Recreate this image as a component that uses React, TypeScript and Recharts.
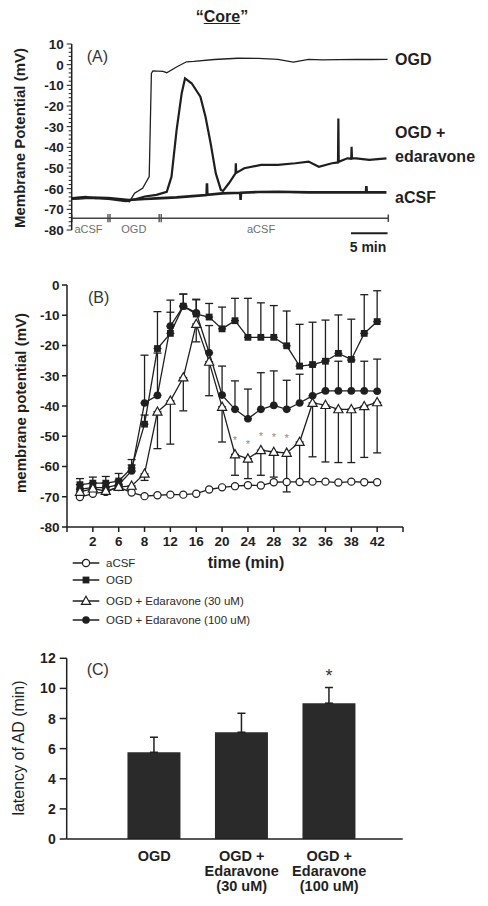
import React from 'react';
import {
  LineChart, Line, XAxis, YAxis, ErrorBar, ReferenceLine, ReferenceDot,
  LabelList, BarChart, Bar,
} from 'recharts';

const FONT = '"Liberation Sans", Arial, Helvetica, sans-serif';
const INK = '#1f1f1f';

// (A) single recordings: time (min) / membrane potential (mV)
const ogdTraceTime = [0, 1.9, 3.2, 5.0, 6.7, 7.9, 8.6, 9.7, 10.6, 10.9, 11.1, 12.5, 13.0, 14.4, 15.7, 16.7, 19.5, 22.7, 25.5, 28.2, 30.3, 32.4, 34.3, 36.5, 38.9, 41.0, 43.2];
const ogdTraceMv = [-64.5, -63.8, -64.8, -64.3, -65.5, -66.3, -62.2, -59.8, -54.2, -4.2, -3.0, -3.2, -3.9, -1.0, 1.4, 1.6, 2.5, 3.1, 3.0, 2.6, 1.2, 2.6, 2.3, 2.4, 2.6, 2.5, 2.6];

const edaTraceTime = [0, 2.5, 5.0, 7.4, 8.8, 10.0, 11.6, 13.0, 13.65, 14.35, 15.04, 15.5, 16.4, 17.6, 18.3, 19.0, 19.7, 20.4, 20.7, 21.5, 22.4, 22.45, 22.5, 23.6, 25.9, 28.2, 30.6, 32.4, 33.8, 35.6, 36.42, 36.47, 36.52, 37.7, 38.23, 38.28, 38.33, 38.9, 40.7, 43.05];
const edaTraceMv = [-65.0, -64.5, -65.0, -66.0, -65.0, -63.8, -63.0, -61.5, -54.2, -31.6, -13.9, -6.6, -9.0, -15.5, -25.2, -38.0, -52.5, -60.6, -61.1, -57.4, -52.6, -47.7, -52.4, -50.1, -48.5, -48.5, -47.7, -46.9, -49.4, -47.7, -47.3, -26.0, -47.0, -45.3, -45.5, -39.7, -45.3, -45.3, -46.1, -45.3];

const acsfTraceTime = [0, 2.5, 5.0, 7.8, 10.0, 11.6, 14.35, 16.5, 18.45, 18.5, 18.55, 20.6, 23.05, 23.1, 23.15, 25.5, 28.2, 32.4, 36.5, 40.25, 40.3, 40.35, 43.05];
const acsfTraceMv = [-64.7, -64.3, -64.5, -65.5, -65.0, -64.7, -64.2, -63.6, -63.1, -57.4, -63.0, -62.3, -62.0, -65.5, -62.0, -61.6, -61.5, -61.8, -61.8, -61.8, -58.7, -61.8, -61.8];

const phaseNames = ['aCSF', 'OGD', 'aCSF'];
const phaseLabelAt = [2.3, 8.5, 25.9];
const phaseBreaks = [5.1, 12.1];
const recordingEnd = 43.3;
const aMajorTicks = [10, 0, -10, -20, -30, -40, -50, -60, -70, -80];

// (B) mean membrane potential, one sample per index
const sampleIdx = [0, 1, 2, 3, 4, 5, 6, 7, 8, 9, 10, 11, 12, 13, 14, 15, 16, 17, 18, 19, 20, 21, 22, 23];
const timeTickIdx = [1, 3, 5, 7, 9, 11, 13, 15, 17, 19, 21, 23];
const timeTickLabels = ['2', '6', '8', '12', '16', '20', '24', '28', '32', '36', '38', '42'];

const acsfMean = [-70.1, -69.0, -68.4, -66.8, -68.6, -69.8, -69.5, -69.3, -69.3, -69.0, -67.6, -66.9, -66.5, -66.2, -66.3, -65.2, -65.1, -65.1, -65.0, -65.0, -65.3, -65.0, -65.2, -65.2];
const ogdMean = [-66.0, -65.5, -65.5, -64.8, -60.5, -46.0, -21.0, -16.0, -7.0, -9.6, -10.6, -14.5, -11.8, -17.3, -17.3, -17.3, -20.1, -26.8, -26.3, -25.2, -22.6, -24.6, -16.0, -12.1];
const ogdSem = [2.0, 2.0, 2.2, 2.5, 2.8, 3.0, 12.2, 11.0, 4.0, 4.7, 4.5, 7.2, 7.4, 12.9, 11.4, 10.5, 11.5, 13.8, 14.0, 13.6, 12.7, 13.3, 12.8, 10.2];
const e30Mean = [-68.4, -67.3, -68.1, -66.8, -66.4, -62.4, -41.9, -38.3, -30.6, -12.9, -25.4, -40.3, -56.0, -57.4, -54.6, -55.2, -55.5, -51.9, -39.0, -39.7, -41.1, -41.1, -40.1, -38.8];
const e30Sem = [1.0, 1.0, 1.0, 1.0, 1.0, 2.2, 12.2, 14.3, 11.0, 5.9, 11.2, 11.6, 6.9, 6.6, 8.3, 8.3, 12.9, 13.2, 17.8, 18.8, 17.6, 17.6, 16.9, 16.7];
const e100Mean = [-67.5, -67.0, -67.0, -66.0, -61.5, -39.0, -36.5, -13.6, -7.0, -9.2, -22.4, -36.4, -41.1, -44.2, -41.1, -39.8, -41.1, -39.0, -36.6, -35.0, -35.0, -35.0, -35.0, -35.1];
const e100Sem = [1.5, 1.5, 1.5, 1.5, 2.0, 15.8, 14.0, 4.6, 4.0, 4.5, 9.0, 9.6, 9.4, 9.8, 12.1, 11.4, 9.6, 9.5, 10.0, 10.0, 9.8, 10.0, 9.8, 10.6];
const e30Starred = [12, 13, 14, 15, 16];

const legendNames = ['aCSF', 'OGD', 'OGD + Edaravone (30 uM)', 'OGD + Edaravone (100 uM)'];
const legendShapes = ['openCircle', 'square', 'triangle', 'filledCircle'];

// (C) latency of anoxic depolarization
const latencyPos = [1, 2, 3];
const latencyGroups = [['OGD'], ['OGD +', 'Edaravone', '(30 uM)'], ['OGD +', 'Edaravone', '(100 uM)']];
const latencyMean = [5.76, 7.09, 9.02];
const latencySem = [1.0, 1.26, 1.04];
const latencyStar = ['', '', '*'];

const zipTrace = (t: number[], v: number[]) => t.map((x, i) => ({ t: x, v: v[i] }));

const bData = sampleIdx.map((i) => ({
  i,
  acsf: acsfMean[i],
  ogd: ogdMean[i],
  ogdErr: [0, ogdSem[i]],
  e30: e30Mean[i],
  e30Err: [e30Sem[i], 0],
  e100: e100Mean[i],
  e100Err: [0, e100Sem[i]],
  star: e30Starred.includes(i) ? '*' : '',
}));

const cData = latencyPos.map((pos, k) => ({
  pos,
  latency: latencyMean[k],
  semRange: [0, latencySem[k]],
  star: latencyStar[k],
}));

function marker(kind: string, cx: number, cy: number, key?: string) {
  if (cx == null || cy == null) return <g key={key} />;
  switch (kind) {
    case 'openCircle':
      return <circle key={key} cx={cx} cy={cy} r={3.6} fill="#fff" stroke={INK} strokeWidth={1.2} />;
    case 'square':
      return <rect key={key} x={cx - 3.4} y={cy - 3.4} width={6.8} height={6.8} fill={INK} />;
    case 'triangle':
      return (
        <polygon key={key} points={`${cx},${cy - 4.8} ${cx + 4.6},${cy + 3.4} ${cx - 4.6},${cy + 3.4}`}
          fill="#fff" stroke={INK} strokeWidth={1.2} />
      );
    default:
      return <circle key={key} cx={cx} cy={cy} r={3.8} fill={INK} />;
  }
}
const dotOf = (kind: string) => (p: any) => marker(kind, p.cx, p.cy, `${kind}-${p.index}`);

const aTicks: number[] = [];
for (let v = -80; v <= 10; v += 2) aTicks.push(v);

function AYTick(p: any) {
  const v = p.payload.value;
  const major = aMajorTicks.includes(v);
  return (
    <g>
      <line x1={p.x - (major ? 5 : 3)} x2={p.x} y1={p.y} y2={p.y} stroke={INK} strokeWidth={1} />
      {major && (
        <text x={p.x - 8} y={p.y} dy="0.36em" textAnchor="end" fontSize={13.5} fontWeight="bold" fill={INK} fontFamily={FONT}>
          {v}
        </text>
      )}
    </g>
  );
}

function CTick(p: any) {
  const lines = latencyGroups[latencyPos.indexOf(p.payload.value)] || [];
  return (
    <text x={p.x} y={p.y} textAnchor="middle" fontSize={14.5} fontWeight="bold" fill={INK} fontFamily={FONT}>
      {lines.map((l, k) => (
        <tspan key={k} x={p.x} dy={k === 0 ? 22 : 15}>{l}</tspan>
      ))}
    </text>
  );
}

const lineStar = (p: any) => {
  if (!p.value) return null;
  const x = p.x ?? p.viewBox?.x;
  const y = p.y ?? p.viewBox?.y;
  return <text x={x} y={y - 10.5} textAnchor="middle" fontSize={11} fill="#8a8a8a" fontFamily={FONT}>*</text>;
};

const barStar = (p: any) => {
  if (!p.value) return null;
  return <text x={p.x + p.width / 2} y={p.y - 21} textAnchor="middle" fontSize={18} fill="#333" fontFamily={FONT}>*</text>;
};

function Txt({ x, y, size, bold, anchor = 'start', color = INK, rotate, children }: any) {
  const tx = anchor === 'middle' ? '-50%' : anchor === 'end' ? '-100%' : '0';
  return (
    <div style={{
      position: 'absolute', left: x, top: y, fontSize: size, lineHeight: 1,
      fontWeight: bold ? 'bold' : 'normal', color, whiteSpace: 'nowrap', fontFamily: FONT,
      transform: rotate ? 'translate(-50%, -50%) rotate(-90deg)' : `translate(${tx}, -50%)`,
    }}>
      {children}
    </div>
  );
}

const axisStyle = { stroke: INK, strokeWidth: 1.5 };
const tickText = { fontSize: 13.5, fontWeight: 'bold', fill: INK, fontFamily: FONT };

export default function App() {
  return (
    <div style={{ position: 'absolute', left: 0, top: 0, width: 488, height: 906, background: '#fff', fontFamily: FONT }}>
      <Txt x={222} y={17} size={16} bold anchor="middle">“<span style={{ textDecoration: 'underline' }}>Core</span>”</Txt>

      {/* (A) */}
      <div style={{ position: 'absolute', left: 0, top: 0 }}>
        <LineChart width={488} height={260} margin={{ top: 44, right: 99.7, bottom: 30, left: 31.7 }}>
          <XAxis type="number" dataKey="t" domain={[0, recordingEnd]} hide allowDataOverflow />
          <YAxis type="number" domain={[-80, 10]} ticks={aTicks} interval={0} width={40}
            tickSize={0} tickMargin={0} tickLine={false} axisLine={axisStyle} tick={<AYTick />} />
          <ReferenceLine segment={[{ x: 0, y: -74.3 }, { x: recordingEnd, y: -74.3 }]} stroke="#444" strokeWidth={1.5} />
          {[0, recordingEnd].map((t) => (
            <ReferenceLine key={`end${t}`} segment={[{ x: t, y: -72.5 }, { x: t, y: -76.1 }]} stroke="#444" strokeWidth={1.5} />
          ))}
          {phaseBreaks.flatMap((t) => [t - 0.14, t + 0.14]).map((t) => (
            <ReferenceLine key={`br${t}`} segment={[{ x: t, y: -72.3 }, { x: t, y: -76.3 }]} stroke="#444" strokeWidth={1.3} />
          ))}
          {phaseNames.map((name, k) => (
            <ReferenceDot key={`ph${k}`} x={phaseLabelAt[k]} y={-79.6} r={1} fill="none" stroke="none" ifOverflow="visible"
              label={{ value: name, position: 'center', fontSize: 11, fill: '#6e6e6e', fontFamily: FONT }} />
          ))}
          <ReferenceLine segment={[{ x: 38.2, y: -81.6 }, { x: 43.2, y: -81.6 }]} stroke={INK} strokeWidth={2} ifOverflow="visible" />
          <Line data={zipTrace(acsfTraceTime, acsfTraceMv)} dataKey="v" stroke={INK} strokeWidth={2.6} dot={false} activeDot={false} isAnimationActive={false} />
          <Line data={zipTrace(edaTraceTime, edaTraceMv)} dataKey="v" stroke={INK} strokeWidth={2.2} dot={false} activeDot={false} isAnimationActive={false} />
          <Line data={zipTrace(ogdTraceTime, ogdTraceMv)} dataKey="v" stroke={INK} strokeWidth={1.3} dot={false} activeDot={false} isAnimationActive={false} />
        </LineChart>
      </div>
      <Txt x={368} y={247} size={14} bold anchor="middle">5 min</Txt>
      <Txt x={86.7} y={57} size={16} color="#333">(A)</Txt>
      <Txt x={19} y={138} size={15} bold rotate>Membrane Potential (mV)</Txt>
      <Txt x={395} y={60} size={16} bold>OGD</Txt>
      <Txt x={395} y={133.3} size={16} bold>OGD +</Txt>
      <Txt x={395} y={157.3} size={16} bold>edaravone</Txt>
      <Txt x={395} y={198.3} size={16} bold>aCSF</Txt>

      {/* (B) */}
      <div style={{ position: 'absolute', left: 0, top: 270 }}>
        <LineChart width={488} height={300} data={bData} margin={{ top: 15, right: 85, bottom: 13, left: 22 }}>
          <XAxis type="number" dataKey="i" domain={[-1, 25]} ticks={[-1, ...timeTickIdx, 25]} interval={0}
            tickFormatter={(v: number) => { const k = timeTickIdx.indexOf(v); return k < 0 ? '' : timeTickLabels[k]; }}
            tickSize={5} tickMargin={4} axisLine={axisStyle} tickLine={axisStyle} tick={tickText} height={30} />
          <YAxis type="number" domain={[-80, 0]} ticks={[0, -10, -20, -30, -40, -50, -60, -70, -80]} interval={0}
            width={45} tickSize={5} tickMargin={2.5} axisLine={axisStyle} tickLine={axisStyle} tick={tickText} />
          <Line dataKey="acsf" stroke={INK} strokeWidth={1.3} dot={dotOf('openCircle')} activeDot={false} isAnimationActive={false} />
          <Line dataKey="ogd" stroke={INK} strokeWidth={1.3} dot={dotOf('square')} activeDot={false} isAnimationActive={false}>
            <ErrorBar dataKey="ogdErr" width={4} stroke={INK} strokeWidth={1.3} direction="y" />
          </Line>
          <Line dataKey="e100" stroke={INK} strokeWidth={1.3} dot={dotOf('filledCircle')} activeDot={false} isAnimationActive={false}>
            <ErrorBar dataKey="e100Err" width={4} stroke={INK} strokeWidth={1.3} direction="y" />
          </Line>
          <Line dataKey="e30" stroke={INK} strokeWidth={1.3} dot={dotOf('triangle')} activeDot={false} isAnimationActive={false}>
            <ErrorBar dataKey="e30Err" width={4} stroke={INK} strokeWidth={1.3} direction="y" />
            <LabelList dataKey="star" content={lineStar} />
          </Line>
        </LineChart>
      </div>
      <Txt x={88} y={298} size={16} color="#333">(B)</Txt>
      <Txt x={20} y={403} size={15} bold rotate>membrane potential (mV)</Txt>
      <Txt x={246} y={563} size={16} bold anchor="middle">time (min)</Txt>
      {legendNames.map((name, k) => {
        const y = [562.7, 580, 601, 620][k];
        return (
          <div key={name} style={{ position: 'absolute', left: 72, top: y - 7, height: 14, display: 'flex', alignItems: 'center' }}>
            <svg width={28} height={14} style={{ display: 'block' }}>
              <line x1={0.7} x2={27.3} y1={7} y2={7} stroke={INK} strokeWidth={1.5} />
              {marker(legendShapes[k], 14, 7)}
            </svg>
            <span style={{ marginLeft: 6, fontSize: 11.5, color: '#2a2a2a', fontFamily: FONT, whiteSpace: 'nowrap' }}>{name}</span>
          </div>
        );
      })}

      {/* (C) */}
      <div style={{ position: 'absolute', left: 0, top: 640 }}>
        <BarChart width={488} height={260} data={cData} margin={{ top: 18.3, right: 85.3, bottom: 6, left: 16.7 }}>
          <XAxis type="number" dataKey="pos" domain={[0, 3.84]} ticks={latencyPos} interval={0} height={55}
            tick={<CTick />} tickLine={false} tickSize={0} tickMargin={0} axisLine={axisStyle} />
          <YAxis type="number" domain={[0, 12]} ticks={[0, 2, 4, 6, 8, 10, 12]} interval={0} width={50}
            tickSize={7} tickMargin={4} axisLine={axisStyle} tickLine={axisStyle} tick={{ ...tickText, fontSize: 14 }} />
          <Bar dataKey="latency" fill="#2a2a2a" barSize={53} isAnimationActive={false}>
            <ErrorBar dataKey="semRange" width={4} stroke={INK} strokeWidth={1.5} direction="y" />
            <LabelList dataKey="star" content={barStar} />
          </Bar>
        </BarChart>
      </div>
      <Txt x={86.7} y={670} size={16} color="#333">(C)</Txt>
      <Txt x={18.5} y={747.5} size={16} rotate>latency of AD (min)</Txt>
    </div>
  );
}
